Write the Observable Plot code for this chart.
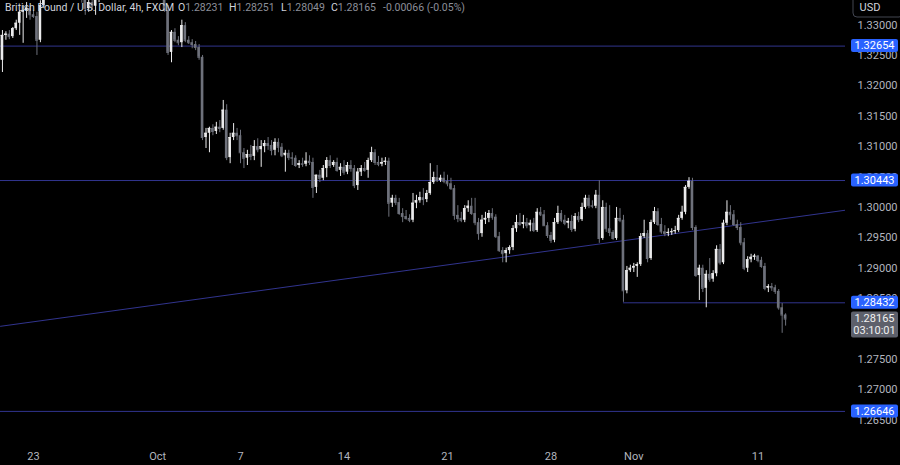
<!DOCTYPE html>
<html><head><meta charset="utf-8">
<script src="https://cdn.jsdelivr.net/npm/d3@7"></script>
<script src="https://cdn.jsdelivr.net/npm/@observablehq/plot@0.6"></script>
<style>
html,body{margin:0;padding:0;background:#000;}
#chart{position:relative;width:900px;height:465px;overflow:hidden;background:#000;}
</style></head><body><div id="chart"></div>
<script>
// GBP/USD 4h candles (FXCM), index 0 = first visible candle, index 9 = Mon 23 Sep
const open = [
1.3242,1.3283,1.3285,1.3281,1.3294,1.3303,1.3321,1.3324,1.3327,1.3317,
1.3314,1.3275,1.3332,1.3365,1.3377,1.3385,1.3393,1.3387,1.3380,1.3373,
1.3367,1.3360,1.3357,1.3350,1.3349,1.3327,1.3337,1.3331,1.3345,1.3357,
1.3370,1.3382,1.3393,1.3400,1.3406,1.3398,1.3390,1.3387,1.3383,1.3390,
1.3393,1.3387,1.3390,1.3395,1.3398,1.3393,1.3382,1.3360,1.3324,1.3255,
1.3288,1.3275,1.3271,1.3299,1.3275,1.3271,1.3268,1.3263,1.3247,1.3115,
1.3122,1.3130,1.3125,1.3132,1.3130,1.3160,1.3082,1.3115,1.3122,1.3118,
1.3090,1.3081,1.3087,1.3084,1.3100,1.3095,1.3100,1.3105,1.3102,1.3094,
1.3107,1.3099,1.3085,1.3089,1.3082,1.3081,1.3069,1.3072,1.3071,1.3076,
1.3074,1.3033,1.3053,1.3048,1.3064,1.3077,1.3069,1.3074,1.3061,1.3066,
1.3058,1.3069,1.3064,1.3036,1.3058,1.3064,1.3061,1.3077,1.3090,1.3074,
1.3071,1.3074,1.3076,1.3007,1.3015,1.3008,1.2990,1.2985,1.2982,1.2979,
1.3007,1.3011,1.3016,1.3013,1.3023,1.3041,1.3049,1.3044,1.3048,1.3043,
1.3039,1.3031,1.2987,1.2982,1.2979,1.2998,1.3002,1.2990,1.2975,1.2957,
1.2979,1.2982,1.2990,1.2984,1.2952,1.2929,1.2924,1.2929,1.2934,1.2965,
1.2975,1.2972,1.2975,1.2970,1.2974,1.2962,1.2992,1.2988,1.2970,1.2954,
1.2946,1.2975,1.2990,1.2979,1.2974,1.2977,1.2964,1.2985,1.2980,1.3000,
1.3015,1.3003,1.3002,1.3020,1.2949,1.3000,1.2965,1.2959,1.2949,1.2982,
1.2979,1.2863,1.2896,1.2900,1.2903,1.2906,1.2952,1.2957,1.2916,1.2975,
1.2993,1.2972,1.2960,1.2957,1.2959,1.2960,1.2962,1.2982,1.2992,1.3033,
1.3043,1.2967,1.2888,1.2900,1.2867,1.2890,1.2882,1.2891,1.2931,1.2909,
1.2974,1.2992,1.2988,1.2972,1.2967,1.2942,1.2900,1.2914,1.2918,1.2920,
1.2913,1.2903,1.2867,1.2870,1.2868,1.2862,1.2835,1.28231];
const high = [
1.3291,1.3289,1.3291,1.3296,1.3308,1.3324,1.3332,1.3337,1.3332,1.3324,
1.3321,1.3340,1.3373,1.3382,1.3390,1.3398,1.3403,1.3395,1.3390,1.3387,
1.3377,1.3370,1.3365,1.3360,1.3365,1.3344,1.3349,1.3354,1.3365,1.3373,
1.3387,1.3398,1.3406,1.3413,1.3416,1.3410,1.3400,1.3396,1.3393,1.3400,
1.3403,1.3396,1.3400,1.3406,1.3406,1.3403,1.3390,1.3367,1.3332,1.3291,
1.3294,1.3281,1.3308,1.3304,1.3281,1.3276,1.3273,1.3268,1.3250,1.3130,
1.3132,1.3136,1.3140,1.3143,1.3176,1.3169,1.3122,1.3138,1.3130,1.3127,
1.3097,1.3094,1.3102,1.3110,1.3113,1.3110,1.3110,1.3115,1.3110,1.3113,
1.3113,1.3105,1.3094,1.3094,1.3090,1.3085,1.3077,1.3081,1.3090,1.3085,
1.3081,1.3053,1.3061,1.3069,1.3082,1.3085,1.3077,1.3081,1.3072,1.3077,
1.3074,1.3077,1.3069,1.3064,1.3069,1.3074,1.3081,1.3099,1.3095,1.3084,
1.3081,1.3082,1.3081,1.3020,1.3020,1.3015,1.2998,1.2995,1.2988,1.3023,
1.3020,1.3025,1.3031,1.3028,1.3072,1.3058,1.3069,1.3053,1.3058,1.3053,
1.3048,1.3036,1.3003,1.2992,1.3003,1.3011,1.3015,1.3015,1.2982,1.2987,
1.2992,1.2995,1.2998,1.2988,1.2959,1.2934,1.2933,1.2937,1.2970,1.2987,
1.2990,1.2987,1.2982,1.2979,1.2982,1.2998,1.3000,1.2995,1.2975,1.2959,
1.2982,1.3002,1.2995,1.2987,1.2982,1.2987,1.2990,1.2992,1.3007,1.3020,
1.3020,1.3011,1.3028,1.3044,1.3011,1.3007,1.3003,1.2962,1.3000,1.2998,
1.2987,1.2903,1.2905,1.2908,1.2909,1.2957,1.2979,1.2962,1.2979,1.3000,
1.2998,1.2982,1.2970,1.2965,1.2965,1.2969,1.2987,1.3002,1.3036,1.3049,
1.3048,1.2970,1.2905,1.2905,1.2896,1.2916,1.2896,1.2937,1.2939,1.2979,
1.3011,1.3003,1.2995,1.2979,1.2975,1.2949,1.2919,1.2923,1.2923,1.2921,
1.2918,1.2908,1.2873,1.2875,1.2872,1.2865,1.2842,1.28251];
const low = [
1.3222,1.3275,1.3276,1.3278,1.3291,1.3283,1.3270,1.3311,1.3308,1.3311,
1.3250,1.3271,1.3327,1.3357,1.3370,1.3377,1.3382,1.3373,1.3370,1.3360,
1.3354,1.3349,1.3344,1.3336,1.3316,1.3321,1.3324,1.3316,1.3337,1.3350,
1.3363,1.3373,1.3387,1.3390,1.3393,1.3387,1.3380,1.3377,1.3373,1.3380,
1.3383,1.3377,1.3382,1.3387,1.3387,1.3377,1.3354,1.3321,1.3250,1.3238,
1.3271,1.3266,1.3263,1.3271,1.3268,1.3261,1.3258,1.3242,1.3110,1.3097,
1.3090,1.3118,1.3120,1.3123,1.3127,1.3077,1.3072,1.3110,1.3110,1.3072,
1.3064,1.3069,1.3077,1.3077,1.3090,1.3066,1.3090,1.3094,1.3085,1.3085,
1.3090,1.3082,1.3058,1.3077,1.3069,1.3066,1.3064,1.3066,1.3067,1.3069,
1.3015,1.3023,1.3041,1.3044,1.3049,1.3064,1.3066,1.3058,1.3051,1.3053,
1.3054,1.3058,1.3031,1.3028,1.3051,1.3058,1.3048,1.3074,1.3069,1.3067,
1.3067,1.3069,1.2984,1.3000,1.3003,1.2987,1.2975,1.2979,1.2975,1.2975,
1.2998,1.3007,1.3003,1.3008,1.3020,1.3038,1.3041,1.3041,1.3039,1.3034,
1.3028,1.2979,1.2975,1.2975,1.2975,1.2992,1.2987,1.2970,1.2946,1.2951,
1.2972,1.2975,1.2979,1.2949,1.2926,1.2909,1.2909,1.2923,1.2929,1.2959,
1.2969,1.2965,1.2965,1.2960,1.2959,1.2959,1.2985,1.2969,1.2949,1.2941,
1.2942,1.2972,1.2975,1.2970,1.2965,1.2959,1.2960,1.2975,1.2977,1.2997,
1.2998,1.2998,1.2998,1.2941,1.2946,1.2959,1.2952,1.2946,1.2946,1.2975,
1.2844,1.2858,1.2893,1.2893,1.2885,1.2903,1.2949,1.2909,1.2913,1.2972,
1.2969,1.2956,1.2952,1.2952,1.2954,1.2956,1.2959,1.2979,1.2988,1.3030,
1.2962,1.2885,1.2847,1.2860,1.2835,1.2877,1.2877,1.2886,1.2905,1.2906,
1.2970,1.2979,1.2969,1.2962,1.2937,1.2896,1.2893,1.2909,1.2913,1.2909,
1.2900,1.2863,1.2860,1.2862,1.2857,1.2831,1.2793,1.28049];
const close = [
1.3283,1.3285,1.3281,1.3294,1.3303,1.3321,1.3324,1.3327,1.3317,1.3314,
1.3275,1.3332,1.3365,1.3377,1.3385,1.3393,1.3387,1.3380,1.3373,1.3367,
1.3360,1.3357,1.3350,1.3349,1.3327,1.3337,1.3331,1.3345,1.3357,1.3370,
1.3382,1.3393,1.3400,1.3406,1.3398,1.3390,1.3387,1.3383,1.3390,1.3393,
1.3387,1.3390,1.3395,1.3398,1.3393,1.3382,1.3360,1.3324,1.3255,1.3288,
1.3275,1.3271,1.3299,1.3275,1.3271,1.3268,1.3263,1.3247,1.3115,1.3122,
1.3130,1.3125,1.3132,1.3130,1.3160,1.3082,1.3115,1.3122,1.3118,1.3090,
1.3081,1.3087,1.3084,1.3100,1.3095,1.3100,1.3105,1.3102,1.3094,1.3107,
1.3099,1.3085,1.3089,1.3082,1.3081,1.3069,1.3072,1.3071,1.3076,1.3074,
1.3033,1.3053,1.3048,1.3064,1.3077,1.3069,1.3074,1.3061,1.3066,1.3058,
1.3069,1.3064,1.3036,1.3058,1.3064,1.3061,1.3077,1.3090,1.3074,1.3071,
1.3074,1.3076,1.3007,1.3015,1.3008,1.2990,1.2985,1.2982,1.2979,1.3007,
1.3011,1.3016,1.3013,1.3023,1.3041,1.3049,1.3044,1.3048,1.3043,1.3039,
1.3031,1.2987,1.2982,1.2979,1.2998,1.3002,1.2990,1.2975,1.2957,1.2979,
1.2982,1.2990,1.2984,1.2952,1.2929,1.2924,1.2929,1.2934,1.2965,1.2975,
1.2972,1.2975,1.2970,1.2974,1.2962,1.2992,1.2988,1.2970,1.2954,1.2946,
1.2975,1.2990,1.2979,1.2974,1.2977,1.2964,1.2985,1.2980,1.3000,1.3015,
1.3003,1.3002,1.3020,1.2949,1.3000,1.2965,1.2959,1.2949,1.2982,1.2979,
1.2863,1.2896,1.2900,1.2903,1.2906,1.2952,1.2957,1.2916,1.2975,1.2993,
1.2972,1.2960,1.2957,1.2959,1.2960,1.2962,1.2982,1.2992,1.3033,1.3043,
1.2967,1.2888,1.2900,1.2867,1.2890,1.2882,1.2891,1.2931,1.2909,1.2974,
1.2992,1.2988,1.2972,1.2967,1.2942,1.2900,1.2914,1.2918,1.2920,1.2913,
1.2903,1.2867,1.2870,1.2868,1.2862,1.2835,1.28231,1.28165];

// horizontal levels drawn on the chart
const levels = [1.32654, 1.30443, 1.26646];
const supportLevel = 1.28432;       // starts at candle index 180
const supportStart = 180;
// rising trendline anchors (candle index, price)
const trendAnchors = [{i: 0, p: 1.2805}, {i: 227, p: 1.2982}];

// price-axis ticks (1.28000 sits behind the last-price box in the reference)
const priceTicks = [1.330,1.325,1.320,1.315,1.310,1.305,1.300,1.295,1.290,1.285,1.275,1.270,1.265];
const dateTicks  = [9, 45, 69, 99, 129, 159, 183, 219];
const dateLabels = ["23", "Oct", "7", "14", "21", "28", "Nov", "11"];

const UP = "#ebebec", DOWN = "#6e717b", LINE = "#31348e";
const n = close.length;
const candles = d3.range(n).map(i => ({i, o: open[i], h: high[i], l: low[i], c: close[i]}));
const ups = candles.filter(d => d.c >= d.o);
const downs = candles.filter(d => d.c < d.o);
const xDomain = [-0.565, 244.36];
const slope = (trendAnchors[1].p - trendAnchors[0].p) / (trendAnchors[1].i - trendAnchors[0].i);
const trendLine = xDomain.map(i => ({i, p: trendAnchors[0].p + slope * (i - trendAnchors[0].i)}));
const labelMap = new Map(dateTicks.map((t, k) => [t, dateLabels[k]]));
const hw = 0.38;

function candleMarks(data, color) {
  return [
    Plot.ruleX(data, {x: "i", y1: "l", y2: "h", stroke: color, strokeWidth: 1, clip: true}),
    Plot.rect(data, {x1: d => d.i - hw, x2: d => d.i + hw, y1: d => Math.min(d.o, d.c), y2: d => Math.max(d.o, d.c), fill: color, clip: true}),
    Plot.ruleY(data, {x1: d => d.i - hw, x2: d => d.i + hw, y: "c", stroke: color, strokeWidth: 1, clip: true})
  ];
}

const chart = Plot.plot({
  width: 900, height: 465,
  marginLeft: 0, marginRight: 55, marginTop: 0, marginBottom: 20,
  x: {domain: xDomain},
  y: {domain: [1.26085, 1.33404]},
  style: {background: "#000", color: "#b2b5be", fontFamily: "Roboto, 'Noto Sans', sans-serif", fontSize: "11px"},
  marks: [
    Plot.ruleY(levels, {stroke: LINE, strokeWidth: 1}),
    Plot.ruleY([supportLevel], {x1: supportStart, x2: xDomain[1], stroke: LINE, strokeWidth: 1}),
    Plot.line(trendLine, {x: "i", y: "p", stroke: LINE, strokeWidth: 1, clip: true}),
    ...candleMarks(downs, DOWN),
    ...candleMarks(ups, UP),
    Plot.axisY({anchor: "right", ticks: priceTicks, tickFormat: d => d.toFixed(5), tickSize: 0, tickPadding: 12, label: null}),
    Plot.axisX({anchor: "bottom", ticks: dateTicks, tickFormat: d => labelMap.get(d), tickSize: 0, tickPadding: 7, label: null})
  ]
});
document.getElementById("chart").appendChild(chart);

// overlays positioned through Plot's own y scale
const ys = chart.scale("y");
const yPos = ys.apply ? (v => ys.apply(v)) : d3.scaleLinear(ys.domain, ys.range);
const svg = d3.select(chart);
const g = svg.append("g").attr("font-family", "Roboto, 'Noto Sans', sans-serif").attr("font-size", 11).attr("text-anchor", "middle");

[...levels, supportLevel].forEach(v => {
  const y = yPos(v);
  g.append("rect").attr("x", 851).attr("y", y - 6.5).attr("width", 47).attr("height", 13).attr("rx", 2).attr("fill", "#2962ff");
  g.append("text").attr("x", 874.5).attr("y", y).attr("dy", "0.35em").attr("fill", "#ffffff").text(v.toFixed(5));
});
{
  const last = close[n - 1];
  const y = yPos(last);
  g.append("rect").attr("x", 851).attr("y", y - 7).attr("width", 47).attr("height", 26).attr("rx", 2).attr("fill", "#5d606b");
  g.append("text").attr("x", 874.5).attr("y", y).attr("dy", "0.35em").attr("fill", "#f0f0f0").text(last.toFixed(5));
  g.append("text").attr("x", 874.5).attr("y", y + 12).attr("dy", "0.35em").attr("fill", "#f0f0f0").text("03:10:01");
}
g.append("rect").attr("x", 853).attr("y", -6).attr("width", 50).attr("height", 23).attr("rx", 4).attr("fill", "#000").attr("stroke", "#434651");
g.append("text").attr("x", 870).attr("y", 7).attr("dy", "0.35em").attr("fill", "#d1d4dc").text("USD");

// legend header (left-aligned)
const hdr = g.append("text").attr("y", 10.5).attr("font-size", 10.5).attr("text-anchor", "start");
hdr.append("tspan").attr("x", 5).attr("fill", "#d1d4dc").text("British Pound / U.S. Dollar, 4h, FXCM");
const fmt = v => v.toFixed(5);
const li = n - 1;
[["O", open[li], 178], ["H", high[li], 229], ["L", low[li], 281], ["C", close[li], 331]].forEach(([k, v, x]) => {
  hdr.append("tspan").attr("x", x).attr("fill", "#d1d4dc").text(k);
  hdr.append("tspan").attr("fill", "#8c8f99").text(fmt(v));
});
const chg = close[li] - open[li];
hdr.append("tspan").attr("x", 383).attr("fill", "#8c8f99").text(`${chg.toFixed(5)} (${(chg / open[li] * 100).toFixed(2)}%)`);
</script></body></html>
